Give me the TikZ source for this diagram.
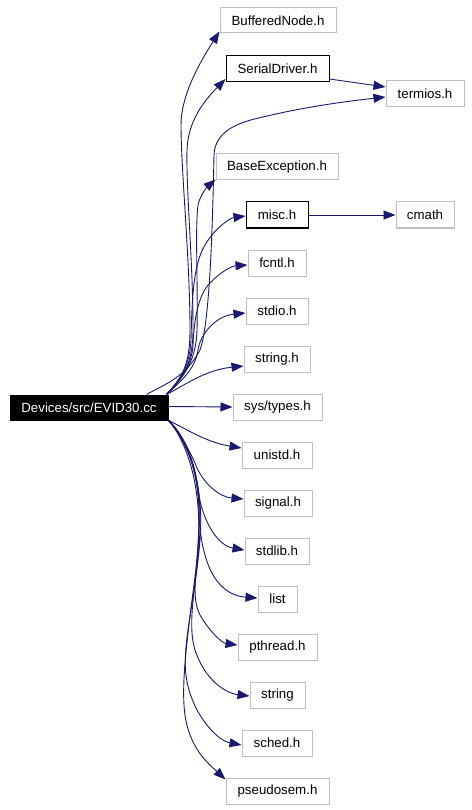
\documentclass[tikz,border=0pt]{standalone}
\usepackage{fontspec}
\setmainfont{Liberation Sans}
\usetikzlibrary{arrows.meta}
\definecolor{edgeblue}{HTML}{191970}
\definecolor{boxgray}{HTML}{BFBFBF}
\begin{document}
\begin{tikzpicture}[x=1pt,y=-1pt,
  box/.style={draw=boxgray, line width=1pt, minimum height=26pt, inner sep=0pt, font=\fontsize{13.3}{15}\selectfont, fill=white},
  docbox/.style={box, draw=black},
  srcbox/.style={box, draw=black, fill=black, text=white},
  edge/.style={draw=edgeblue, line width=0.9pt, -{Triangle[length=12pt,width=9pt]}}]
\useasboundingbox (0,0) rectangle (471,810);
% nodes
\node[srcbox, minimum width=158pt, minimum height=25pt] (src) at (89,407.5) {Devices/src/EVID30.cc};
\node[box, minimum width=116pt, minimum height=25pt] (bn) at (278,20.5) {BufferedNode.h};
\node[docbox, minimum width=103pt] (sd) at (277.5,68.5) {SerialDriver.h};
\node[box, minimum width=78pt] (tm) at (425,93.5) {termios.h};
\node[box, minimum width=122pt] (be) at (277,167) {BaseException.h};
\node[docbox, minimum width=62pt] (mi) at (277,215) {misc.h};
\node[box, minimum width=58pt] (cm) at (425,215) {cmath};
\node[box, minimum width=58pt] (fc) at (277,263) {fcntl.h};
\node[box, minimum width=62pt] (sio) at (277,311) {stdio.h};
\node[box, minimum width=66pt] (sth) at (277,359) {string.h};
\node[box, minimum width=89pt] (st) at (277.5,407) {sys/types.h};
\node[box, minimum width=70pt] (un) at (277,455) {unistd.h};
\node[box, minimum width=68pt] (sg) at (278,503) {signal.h};
\node[box, minimum width=64pt] (sl) at (277,551) {stdlib.h};
\node[box, minimum width=39pt] (li) at (277.5,599) {list};
\node[box, minimum width=79pt] (pt) at (277.5,647) {pthread.h};
\node[box, minimum width=55pt] (ss) at (277.5,695) {string};
\node[box, minimum width=70pt] (sc) at (277,743) {sched.h};
\node[box, minimum width=103pt] (ps) at (277.5,791) {pseudosem.h};
% upward edges
\draw[edge] ([xshift=-2pt]src.north east) .. controls (182,378) and (190,365) .. (190,330)
  .. controls (190,260) and (181,170) .. (181,125) .. controls (181,95) and (200,62) .. ([xshift=0pt,yshift=2pt]bn.south west);
\draw[edge] ([xshift=-2pt]src.north east) .. controls (182,378) and (193,365) .. (193,330)
  .. controls (193,260) and (186,190) .. (187,150) .. controls (188,120) and (205,100) .. ([yshift=3pt]sd.south west);
\draw[edge] ([xshift=-2pt]src.north east) .. controls (183,378) and (196,362) .. (197,330)
  .. controls (198,280) and (195,230) .. (198,205) .. controls (200,195) and (208,186) .. ([yshift=1pt]be.south west);
\draw[edge] ([xshift=-22pt]src.north east) .. controls (165,384) and (185,378) .. (200,350)
  .. controls (211,320) and (213,200) .. (214,155) .. controls (215,130) and (240,122) .. (263,117)
  .. controls (300,108) and (340,102) .. ([yshift=-3.5pt]tm.west);
\draw[edge] ([yshift=3pt]sd.south east) -- ([yshift=6.5pt]tm.west);
\draw[edge] ([xshift=-2pt]src.north east) .. controls (180,380) and (190,365) .. (191,340)
  .. controls (192,300) and (193,265) .. (205,245) .. controls (215,228) and (230,218) .. ([yshift=-1pt]mi.west);
\draw[edge] (mi.east) -- (cm.west);
\draw[edge] ([xshift=-2pt]src.north east) .. controls (180,380) and (192,365) .. (193,345)
  .. controls (194,320) and (198,295) .. (210,283) .. controls (220,272) and (232,266) .. ([yshift=-2pt]fc.west);
\draw[edge] ([xshift=-2pt]src.north east) .. controls (180,382) and (195,370) .. (198,350)
  .. controls (200,335) and (215,316) .. ([yshift=-2pt]sio.west);
\draw[edge] ([xshift=-2pt]src.north east) .. controls (185,385) and (205,370) .. ([yshift=-7pt]sth.west);
\draw[edge] ([yshift=1pt]src.east) -- (st.west);
% downward edges
\draw[edge] (src.south east) .. controls (185,428) and (205,442) .. ([yshift=7pt]un.west);
\draw[edge] (src.south east) .. controls (180,432) and (192,455) .. (197,468)
  .. controls (205,485) and (220,497) .. ([yshift=4pt]sg.west);
\draw[edge] (src.south east) .. controls (182,435) and (195,460) .. (198,490)
  .. controls (201,515) and (215,545) .. ([yshift=1pt]sl.west);
\draw[edge] (src.south east) .. controls (183,435) and (198,465) .. (199,510)
  .. controls (200,560) and (215,595) .. ([yshift=1pt]li.west);
\draw[edge] (src.south east) .. controls (184,435) and (200,470) .. (199,520)
  .. controls (198,570) and (190,595) .. (200,615) .. controls (210,632) and (222,643) .. ([yshift=2pt]pt.west);
\draw[edge] (src.south east) .. controls (185,435) and (202,470) .. (200,530)
  .. controls (198,580) and (186,620) .. (195,650) .. controls (205,680) and (225,693) .. ([yshift=-1pt]ss.west);
\draw[edge] (src.south east) .. controls (185,438) and (205,480) .. (200,540)
  .. controls (195,600) and (182,645) .. (186,675) .. controls (190,710) and (215,740) .. ([yshift=-2pt]sc.west);
\draw[edge] (src.south east) .. controls (186,440) and (205,490) .. (197,560)
  .. controls (190,620) and (180,680) .. (185,715) .. controls (190,750) and (210,765) .. ([yshift=-2pt]ps.north west);
\end{tikzpicture}
\end{document}
